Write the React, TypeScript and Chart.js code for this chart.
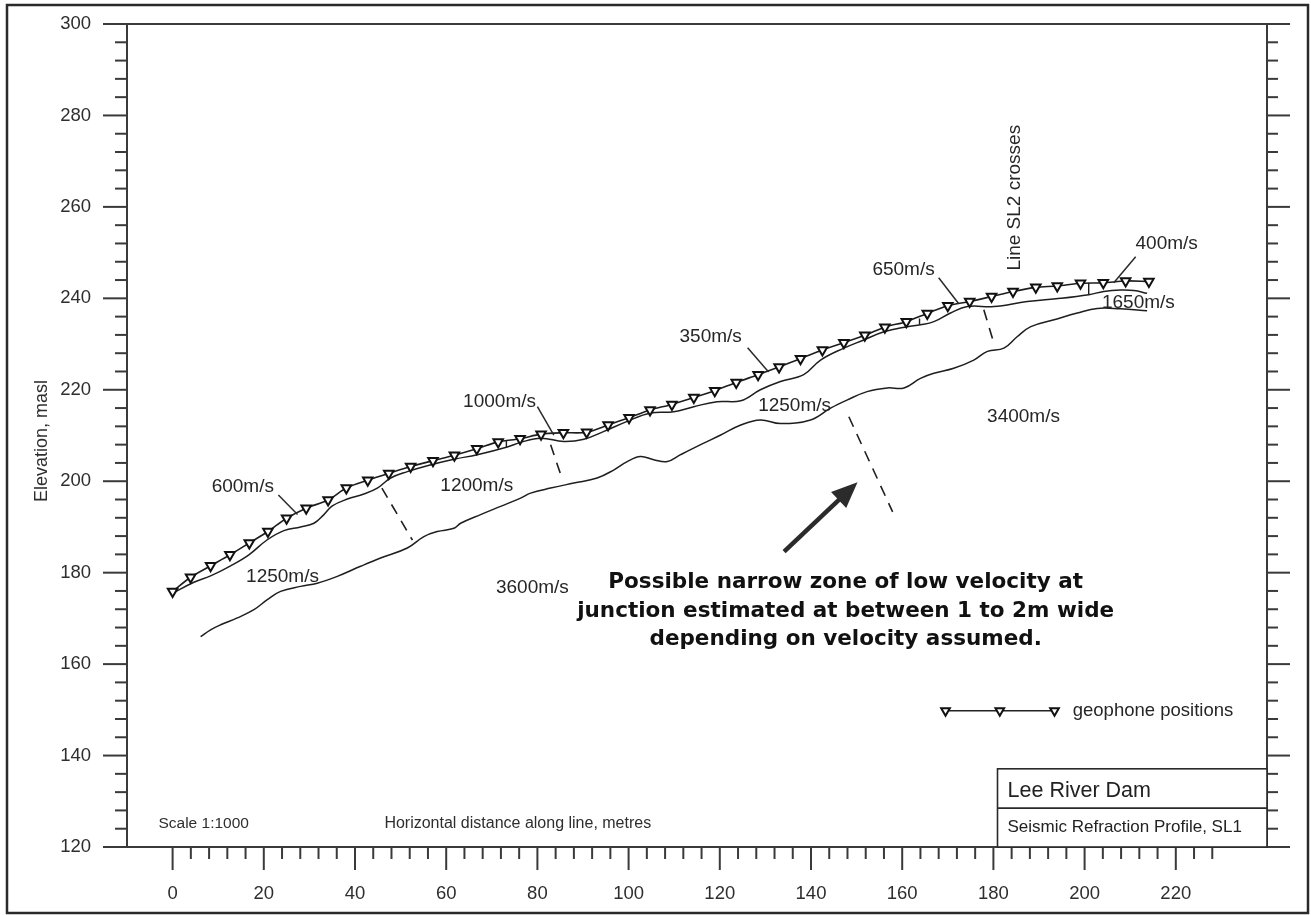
import React, { useEffect, useRef } from "react";
import { Chart, registerables } from "chart.js";

Chart.register(...registerables);

const FONT = '"Liberation Sans", Arial, Helvetica, sans-serif';
const INK = "#1e1e1e";

// ---- axis ranges & ticks ----
const xMin = -10;
const xMax = 240;
const yMin = 120;
const yMax = 300;
const xTickLabels = [0, 20, 40, 60, 80, 100, 120, 140, 160, 180, 200, 220];
const yTickLabels = [120, 140, 160, 180, 200, 220, 240, 260, 280, 300];
const xMinorTicks = [0, 4, 8, 12, 16, 20, 24, 28, 32, 36, 40, 44, 48, 52, 56, 60, 64, 68, 72, 76, 80, 84, 88, 92, 96, 100, 104, 108, 112, 116, 120, 124, 128, 132, 136, 140, 144, 148, 152, 156, 160, 164, 168, 172, 176, 180, 184, 188, 192, 196, 200, 204, 208, 212, 216, 220, 224, 228];
const yMinorStep = 4;

// ---- ground surface (geophone positions) ----
const geophoneX = [0, 3.95, 8.33, 12.57, 16.82, 20.9, 25.0, 29.3, 34.1, 38.1, 42.8, 47.4, 52.2, 57.1, 61.8, 66.7, 71.4, 76.2, 80.8, 85.7, 90.8, 95.5, 100.1, 104.7, 109.5, 114.3, 118.9, 123.6, 128.4, 133.0, 137.7, 142.5, 147.2, 151.8, 156.2, 160.9, 165.5, 170.0, 174.8, 179.6, 184.3, 189.3, 194.0, 199.1, 204.1, 209.0, 214.1];
const geophoneY = [175.9, 179.0, 181.5, 183.9, 186.5, 189.0, 191.9, 194.1, 195.9, 198.5, 200.2, 201.7, 203.2, 204.5, 205.7, 207.1, 208.6, 209.3, 210.3, 210.6, 210.7, 212.3, 213.9, 215.6, 216.8, 218.3, 219.8, 221.6, 223.3, 225.0, 226.8, 228.7, 230.3, 231.9, 233.7, 234.9, 236.7, 238.4, 239.3, 240.4, 241.5, 242.4, 242.7, 243.3, 243.4, 243.8, 243.7];

// ---- base of first (low velocity) layer ----
const layer1X = [0, 4.67, 8.33, 12.72, 16.73, 20.77, 24.41, 28.07, 30.99, 33.18, 35.02, 38.31, 41.95, 44.89, 47.81, 51.47, 55.86, 61.69, 66.82, 73.4, 76.32, 80.7, 85.8, 90.2, 94.6, 99.7, 104.8, 109.9, 114.3, 119.4, 124.6, 128.9, 133.3, 138.4, 142.1, 147.2, 151.6, 156.0, 161.1, 164.0, 166.95, 170.6, 174.3, 180.1, 187.4, 194.7, 200.9, 204.2, 207.9, 210.8, 213.7];
const layer1Y = [175.5, 177.9, 179.3, 181.5, 183.9, 187.2, 189.2, 190.0, 190.8, 192.7, 194.6, 196.1, 197.2, 198.5, 200.7, 202.1, 203.4, 204.8, 205.8, 207.5, 208.5, 209.4, 208.7, 209.2, 210.9, 213.1, 214.9, 215.2, 216.3, 217.4, 217.6, 220.0, 221.8, 223.3, 226.5, 229.1, 230.9, 232.7, 233.8, 234.2, 234.9, 236.8, 238.2, 238.2, 239.3, 240.0, 240.8, 241.5, 241.8, 241.7, 241.1];

// ---- base of second layer (top of bedrock) ----
const layer2X = [6.14, 8.33, 10.53, 14.19, 17.83, 20.77, 23.68, 28.07, 31.73, 36.12, 41.23, 45.61, 51.47, 55.11, 58.05, 61.69, 63.16, 67.54, 71.93, 76.32, 78.51, 82.9, 88.0, 93.1, 96.8, 99.7, 102.6, 105.5, 108.5, 111.4, 115.8, 120.2, 124.6, 128.9, 133.3, 139.9, 144.3, 148.0, 152.3, 156.7, 160.4, 164.0, 166.95, 171.3, 175.7, 178.7, 182.3, 185.2, 188.2, 193.3, 198.4, 202.8, 207.9, 213.7];
const layer2Y = [166.0, 167.5, 168.6, 170.1, 171.9, 174.1, 175.9, 177.0, 177.7, 179.2, 181.4, 183.2, 185.4, 187.9, 189.0, 189.7, 190.8, 192.7, 194.5, 196.3, 197.4, 198.5, 199.6, 200.7, 202.5, 204.3, 205.4, 204.7, 204.3, 205.8, 208.0, 210.1, 212.3, 213.4, 212.6, 213.4, 216.0, 217.8, 219.6, 220.4, 220.4, 222.5, 223.6, 224.7, 226.5, 228.4, 229.1, 231.6, 233.8, 235.3, 236.8, 237.8, 237.7, 237.3];

// ---- dashed velocity boundaries ----
const boundary1X = [45.9, 52.6];
const boundary1Y = [198.5, 187.1];
const boundary2X = [82.9, 85.5];
const boundary2Y = [208.0, 200.3];
const boundary3X = [148.3, 157.9];
const boundary3Y = [214.1, 193.3];
const boundary4X = [177.9, 180.1];
const boundary4Y = [237.5, 230.2];

// ---- short layer-1 velocity change marks ----
const markX = [73.2, 163.8, 200.9];
const markTopY = [208.9, 235.6, 243.4];
const markBottomY = [207.4, 234.2, 240.8];

// ---- velocity labels ----
const velocityText = ["600m/s", "1000m/s", "1200m/s", "1250m/s", "3600m/s", "350m/s", "1250m/s", "650m/s", "400m/s", "1650m/s", "3400m/s"];
const velocityX = [15.4, 71.7, 66.7, 24.1, 78.9, 118.0, 136.4, 160.3, 218.0, 211.8, 186.6];
const velocityY = [198.8, 217.4, 199.0, 179.1, 176.7, 231.6, 216.5, 246.2, 251.9, 239.0, 214.1];

// ---- leader lines from labels ----
const leaderX1 = [23.2, 80.0, 126.1, 168.0, 211.2];
const leaderY1 = [197.0, 216.3, 229.2, 244.5, 249.1];
const leaderX2 = [27.4, 83.6, 130.7, 172.4, 206.4];
const leaderY2 = [192.7, 210.1, 223.9, 238.8, 243.4];

// ---- note ----
const noteLines = [
  "Possible narrow zone of low velocity at",
  "junction estimated at between 1 to 2m wide",
  "depending on velocity assumed.",
];
const arrowFrom = [134.1, 184.6];
const arrowTo = [150.2, 199.8];

const legendSampleX = [169.5, 181.4, 193.4];
const legendSampleY = 149.8;

const pts = (xs: number[], ys: number[]) => xs.map((x, i) => ({ x, y: ys[i] }));

function drawDownTriangle(ctx: CanvasRenderingContext2D, x: number, y: number, r: number) {
  ctx.beginPath();
  for (let k = 0; k < 3; k++) {
    const a = Math.PI + (k * 2 * Math.PI) / 3;
    const px = x + Math.sin(a) * r;
    const py = y - Math.cos(a) * r;
    if (k === 0) ctx.moveTo(px, py);
    else ctx.lineTo(px, py);
  }
  ctx.closePath();
  ctx.fillStyle = "#fff";
  ctx.fill();
  ctx.lineWidth = 2;
  ctx.strokeStyle = "#111";
  ctx.stroke();
}

export default function App() {
  const ref = useRef<HTMLCanvasElement>(null);

  useEffect(() => {
    const canvas = ref.current;
    if (!canvas) return;

    const decor = {
      id: "profileDecor",
      beforeDraw(chart: any) {
        const ctx = chart.ctx as CanvasRenderingContext2D;
        ctx.save();
        ctx.fillStyle = "#fff";
        ctx.fillRect(0, 0, chart.width, chart.height);
        ctx.restore();
      },
      afterDraw(chart: any) {
        const ctx = chart.ctx as CanvasRenderingContext2D;
        const sx = chart.scales.x;
        const sy = chart.scales.y;
        const X = (v: number) => sx.getPixelForValue(v);
        const Y = (v: number) => sy.getPixelForValue(v);
        const { left, right, top, bottom } = chart.chartArea;
        const seg = (x1: number, y1: number, x2: number, y2: number) => {
          ctx.beginPath();
          ctx.moveTo(x1, y1);
          ctx.lineTo(x2, y2);
          ctx.stroke();
        };
        const text = (s: string, x: number, y: number, font: string, align: CanvasTextAlign = "center", color = INK) => {
          ctx.font = font;
          ctx.textAlign = align;
          ctx.textBaseline = "middle";
          ctx.fillStyle = color;
          ctx.fillText(s, x, y);
        };

        ctx.save();
        // outer frame
        ctx.strokeStyle = "#2a2a2a";
        ctx.lineWidth = 2.5;
        ctx.strokeRect(7, 5, chart.width - 10, chart.height - 7);

        // axes box
        ctx.strokeStyle = "#3a3a3a";
        ctx.lineWidth = 2;
        seg(left - 24, top, right + 23, top);
        seg(left - 24, bottom, right + 23, bottom);
        seg(left, top, left, bottom);
        seg(right, top, right, bottom);
        for (let v = yMin; v <= yMax; v += yMinorStep) {
          const major = yTickLabels.includes(v);
          const py = Y(v);
          seg(left - (major ? 24 : 12), py, left, py);
          seg(right, py, right + (major ? 23 : 11), py);
        }
        xMinorTicks.forEach((v) => {
          const major = xTickLabels.includes(v);
          seg(X(v), bottom, X(v), bottom + (major ? 23 : 12));
        });

        // tick labels
        yTickLabels.forEach((v) => text(String(v), left - 36, Y(v), `18.5px ${FONT}`, "right", "#2e2e2e"));
        xTickLabels.forEach((v) => text(String(v), X(v), bottom + 47, `18.5px ${FONT}`, "center", "#2e2e2e"));

        // y title
        ctx.save();
        ctx.translate(left - 85, 441);
        ctx.rotate(-Math.PI / 2);
        text("Elevation, masl", 0, 0, `18px ${FONT}`, "center", "#2e2e2e");
        ctx.restore();

        // bottom texts
        text("Scale 1:1000", X(-3.1), Y(125.1), `15.5px ${FONT}`, "left", "#2e2e2e");
        text("Horizontal distance along line, metres", X(75.7), Y(125.1), `16px ${FONT}`, "center", "#2e2e2e");

        // velocity labels
        velocityText.forEach((s, i) => text(s, X(velocityX[i]), Y(velocityY[i]), `19px ${FONT}`, "center", "#262626"));

        // leaders
        ctx.strokeStyle = "#2a2a2a";
        ctx.lineWidth = 1.5;
        leaderX1.forEach((x, i) => seg(X(x), Y(leaderY1[i]), X(leaderX2[i]), Y(leaderY2[i])));

        // Line SL2 crosses
        ctx.save();
        ctx.translate(X(184.6), Y(262.0));
        ctx.rotate(-Math.PI / 2);
        text("Line SL2 crosses", 0, 0, `19px ${FONT}`, "center", "#262626");
        ctx.restore();

        // arrow
        const tx = X(arrowFrom[0]);
        const ty = Y(arrowFrom[1]);
        const hx = X(arrowTo[0]);
        const hy = Y(arrowTo[1]);
        const ang = Math.atan2(hy - ty, hx - tx);
        const hl = 26;
        const hw = 11;
        const bx = hx - hl * Math.cos(ang);
        const by = hy - hl * Math.sin(ang);
        ctx.strokeStyle = "#2b2b2b";
        ctx.fillStyle = "#2b2b2b";
        ctx.lineWidth = 4.5;
        seg(tx, ty, bx + 4 * Math.cos(ang), by + 4 * Math.sin(ang));
        ctx.beginPath();
        ctx.moveTo(hx, hy);
        ctx.lineTo(bx + hw * Math.sin(ang), by - hw * Math.cos(ang));
        ctx.lineTo(bx - hw * Math.sin(ang), by + hw * Math.cos(ang));
        ctx.closePath();
        ctx.fill();

        // note
        noteLines.forEach((s, i) => text(s, X(147.6), Y(177.8) + i * 28.5, `bold 21.5px "DejaVu Sans", Verdana, sans-serif`, "center", "#111"));

        // legend sample
        const ly = Y(legendSampleY);
        ctx.strokeStyle = "#222";
        ctx.lineWidth = 1.5;
        seg(X(legendSampleX[0]), ly, X(legendSampleX[2]), ly);
        legendSampleX.forEach((x) => drawDownTriangle(ctx, X(x), ly, 5));
        text("geophone positions", X(197.4), ly, `18.5px ${FONT}`, "left", "#262626");

        // title block
        const bl = X(180.9);
        const bt = Y(137.1);
        const bm = Y(128.5);
        ctx.fillStyle = "#fff";
        ctx.fillRect(bl, bt, right - bl, bottom - bt);
        ctx.strokeStyle = "#2a2a2a";
        ctx.lineWidth = 1.6;
        ctx.strokeRect(bl, bt, right - bl, bottom - bt);
        seg(bl, bm, right, bm);
        text("Lee River Dam", X(183.1), Y(132.2), `21.5px ${FONT}`, "left", "#222");
        text("Seismic Refraction Profile, SL1", X(183.1), Y(124.2), `17px ${FONT}`, "left", "#222");

        ctx.restore();
      },
    };

    const lineStyle = { borderColor: INK, borderWidth: 1.5, pointRadius: 0, tension: 0.4, fill: false };
    const dashStyle = { borderColor: INK, borderWidth: 1.6, pointRadius: 0, tension: 0, borderDash: [11, 8], fill: false };

    const chart = new Chart(canvas, {
      type: "line",
      data: {
        datasets: [
          {
            label: "geophone positions",
            data: pts(geophoneX, geophoneY),
            borderColor: INK,
            borderWidth: 1.6,
            tension: 0.3,
            pointStyle: "triangle",
            pointRotation: 180,
            pointRadius: 5.5,
            pointBackgroundColor: "#fff",
            pointBorderColor: "#111",
            pointBorderWidth: 2,
            fill: false,
          },
          { label: "layer 1 base", data: pts(layer1X, layer1Y), ...lineStyle },
          { label: "layer 2 base", data: pts(layer2X, layer2Y), ...lineStyle },
          { label: "boundary 1", data: pts(boundary1X, boundary1Y), ...dashStyle },
          { label: "boundary 2", data: pts(boundary2X, boundary2Y), ...dashStyle },
          { label: "boundary 3", data: pts(boundary3X, boundary3Y), ...dashStyle },
          { label: "boundary 4", data: pts(boundary4X, boundary4Y), ...dashStyle },
          ...markX.map((x, i) => ({
            label: `mark ${i + 1}`,
            data: [{ x, y: markTopY[i] }, { x, y: markBottomY[i] }],
            borderColor: INK,
            borderWidth: 1.4,
            pointRadius: 0,
            tension: 0,
          })),
        ],
      } as any,
      options: {
        responsive: false,
        maintainAspectRatio: false,
        animation: false,
        events: [],
        layout: { padding: { left: 127, right: 44, top: 24, bottom: 68 } },
        scales: {
          x: { type: "linear", min: xMin, max: xMax, display: false },
          y: { type: "linear", min: yMin, max: yMax, display: false },
        },
        plugins: { legend: { display: false }, tooltip: { enabled: false } },
      },
      plugins: [decor],
    });

    return () => chart.destroy();
  }, []);

  return (
    <div style={{ position: "fixed", left: 0, top: 0, width: 1311, height: 915, background: "#fff" }}>
      <canvas ref={ref} width={1311} height={915} style={{ display: "block", width: 1311, height: 915 }} />
    </div>
  );
}
